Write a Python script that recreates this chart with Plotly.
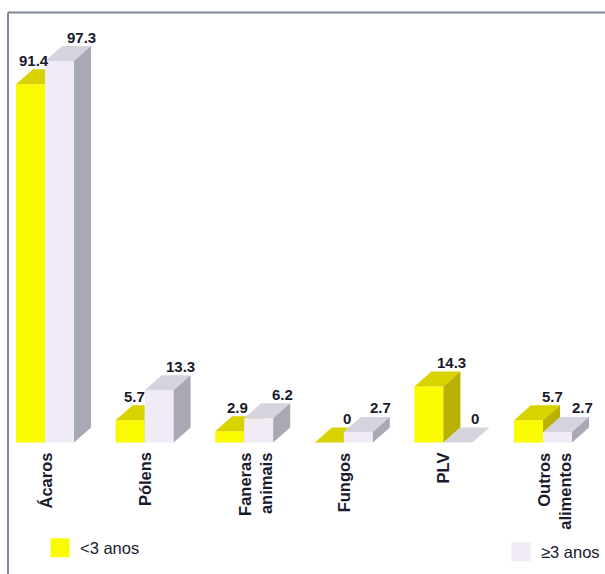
import plotly.graph_objects as go

# ---------------- data ----------------
categories = ["Ácaros", "Pólens", "Faneras<br>animais", "Fungos", "PLV", "Outros<br>alimentos"]
under3 = [91.4, 5.7, 2.9, 0, 14.3, 5.7]
over3 = [97.3, 13.3, 6.2, 2.7, 0, 2.7]
series_names = ["<3 anos", "≥3 anos"]

# ---------------- style / geometry ----------------
W, H = 605, 574
PX_PER_CAT = 99.6        # pixel distance between categories
PX_PER_UNIT = 3.92       # pixels per percentage point
X0_PX = 45               # pixel position of first category
BASE_PX = 442.5          # pixel position of value 0
BAR_W = 29 / PX_PER_CAT  # bar width (category units)
DX = 17 / PX_PER_CAT     # depth offset, x
DY = 15 / PX_PER_UNIT    # depth offset, y

X_RANGE = [-X0_PX / PX_PER_CAT, (W - X0_PX) / PX_PER_CAT]
Y_RANGE = [-(H - BASE_PX) / PX_PER_UNIT, BASE_PX / PX_PER_UNIT]

FONT = "Liberation Sans, Arial, Helvetica, sans-serif"
TXT = "#1a1a2e"

colors = {
    "<3 anos": {"front": "#fbfb00", "top": "#d8d200", "side": "#bab200"},
    "≥3 anos": {"front": "#f1ebf5", "top": "#d5d3dd", "side": "#a9a9b6"},
}
lt3_label_nudge = [-5, -4, -1, 9, 14, 15]
ge3_label_nudge = [13, 13, 15, 14, 9, 16]


def faces(values, left_offset):
    fx, fy, tx, ty, sx, sy = [], [], [], [], [], []
    for i, v in enumerate(values):
        x0 = i + left_offset
        x1 = x0 + BAR_W
        fx += [x0, x1, x1, x0, None]
        fy += [0, 0, v, v, None]
        tx += [x0, x1, x1 + DX, x0 + DX, None]
        ty += [v, v, v + DY, v + DY, None]
        sx += [x1, x1 + DX, x1 + DX, x1, None]
        sy += [0, DY, v + DY, v, None]
    return (fx, fy), (tx, ty), (sx, sy)


fig = go.Figure()

for name, vals, off in [(series_names[0], under3, -BAR_W), (series_names[1], over3, 0.0)]:
    front, top, side = faces(vals, off)
    for part, (xs, ys) in [("front", front), ("top", top), ("side", side)]:
        fig.add_trace(go.Scatter(
            x=xs, y=ys, mode="lines", fill="toself",
            fillcolor=colors[name][part], line=dict(width=0, color=colors[name][part]),
            hoverinfo="skip", showlegend=False,
        ))

# legend-only traces
for name, leg in [(series_names[0], "legend"), (series_names[1], "legend2")]:
    fig.add_trace(go.Scatter(
        x=[None], y=[None], mode="markers", name=name, legend=leg,
        marker=dict(symbol="square", size=16, color=colors[name]["front"],
                    line=dict(width=3, color=colors[name]["front"])),
    ))

# value labels
for i, v in enumerate(under3):
    fig.add_annotation(x=i - BAR_W / 2 + DX / 2, y=v + DY, text=f"{v:g}", showarrow=False,
                       yanchor="middle", xanchor="center", yshift=9, xshift=lt3_label_nudge[i],
                       font=dict(family=FONT, size=15, color=TXT, weight="bold"))
for i, v in enumerate(over3):
    fig.add_annotation(x=i + BAR_W / 2 + DX / 2, y=v + DY, text=f"{v:g}", showarrow=False,
                       yanchor="middle", xanchor="center", yshift=9, xshift=ge3_label_nudge[i],
                       font=dict(family=FONT, size=15, color=TXT, weight="bold"))

# category labels (rotated, top aligned below the bars)
CAT_SIZE = 16.5
for i, c in enumerate(categories):
    n_lines = c.count("<br>") + 1
    fig.add_annotation(x=i, y=0, text=c, showarrow=False, textangle=-90,
                       xanchor="center", yanchor="top", align="right",
                       yshift=-8, xshift=0.65 * CAT_SIZE * (n_lines - 1),
                       font=dict(family=FONT, size=CAT_SIZE, color=TXT, weight="bold"))

# frame lines
fig.add_shape(type="line", xref="paper", yref="paper", x0=8 / W, x1=1, y0=1 - 12.5 / H, y1=1 - 12.5 / H,
              line=dict(color="#7d8698", width=2))
fig.add_shape(type="line", xref="paper", yref="paper", x0=8 / W, x1=8 / W, y0=0, y1=1 - 12.5 / H,
              line=dict(color="#7d8698", width=2))

fig.update_layout(
    width=W, height=H, autosize=False,
    margin=dict(l=0, r=0, t=0, b=0),
    paper_bgcolor="white", plot_bgcolor="white",
    xaxis=dict(range=X_RANGE, showgrid=False, zeroline=False, showline=False,
               showticklabels=False, ticks=""),
    yaxis=dict(range=Y_RANGE, showgrid=False, zeroline=False, showline=False,
               showticklabels=False, ticks=""),
    legend=dict(x=40 / W, y=1 - 548 / H, xanchor="left", yanchor="middle",
                font=dict(family=FONT, size=16.5, color=TXT), bgcolor="rgba(0,0,0,0)"),
    legend2=dict(x=1, y=1 - 552 / H, xanchor="right", yanchor="middle",
                 font=dict(family=FONT, size=16.5, color=TXT), bgcolor="rgba(0,0,0,0)"),
    showlegend=True,
)

fig.write_html("out.html")
